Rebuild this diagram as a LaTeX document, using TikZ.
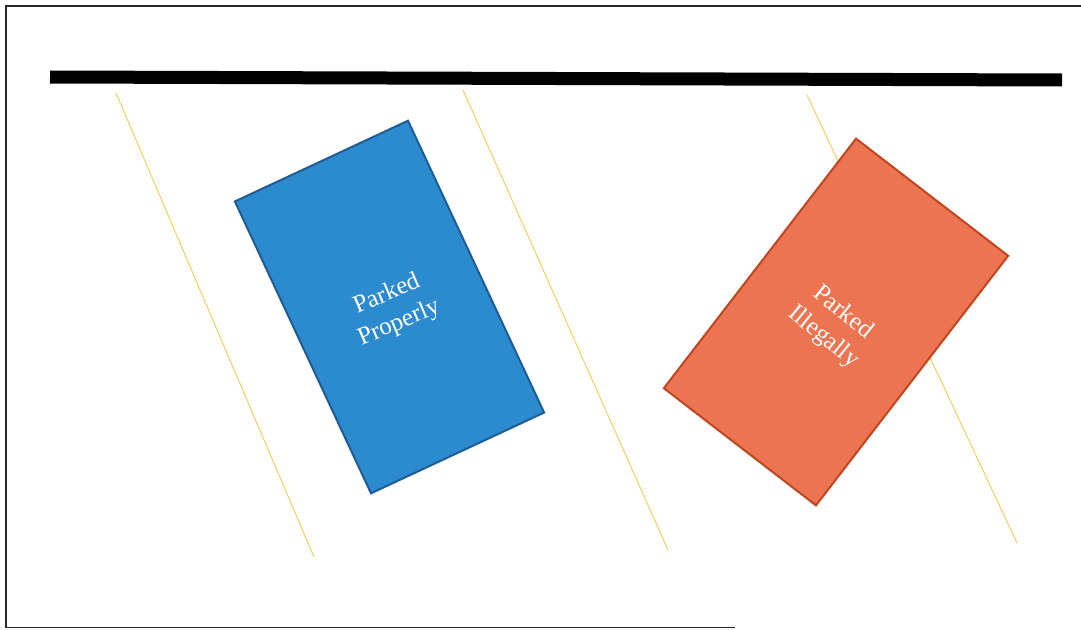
\documentclass[tikz,border=0pt]{standalone}
\usepackage{fontspec}
\setmainfont{Liberation Serif}
\definecolor{lotline}{RGB}{242,206,100}
\definecolor{bluefill}{RGB}{44,138,206}
\definecolor{blueedge}{RGB}{30,92,150}
\definecolor{orangefill}{RGB}{236,116,80}
\definecolor{orangeedge}{RGB}{192,70,32}
\definecolor{framegray}{RGB}{40,40,40}
\tikzset{
  lotmark/.style={draw=lotline, line width=1pt},
  car/.style={draw, line width=2pt, minimum width=191pt, minimum height=322pt, inner sep=0pt},
  cartext/.style={text=white, font=\fontsize{25}{31}\selectfont, align=center, inner sep=0pt},
  framing/.style={draw=framegray, line width=2.5pt}
}
\begin{document}
\begin{tikzpicture}[x=1pt,y=-1pt]
\useasboundingbox (0,0) rectangle (1081,629);
\fill[white] (0,0) rectangle (1081,629);
% frame
\draw[framing] (6,628) -- (6,6) -- (1081,6);
\draw[framing, line width=1.5pt] (6,627.5) -- (735,627.5);
% curb
\draw[line width=13pt, black] (50,77) -- (1062,80);
% lot lines
\draw[lotmark] (116,93) -- (314,557);
\draw[lotmark] (463,90) -- (668,550);
\draw[lotmark] (807,95) -- (1017,543);
% cars
\node[car, draw=blueedge, fill=bluefill, rotate=25] (blue) at (389.5,307) {};
\node[car, draw=orangeedge, fill=orangefill, rotate=-37.6, minimum width=192pt, minimum height=315pt] (orange) at (836,322) {};
\node[cartext, rotate=23] (bluetext) at (393,309) {Parked\\Properly};
\node[cartext, rotate=-39] (orangetext) at (833,325) {Parked\\Illegally};
\end{tikzpicture}
\end{document}
